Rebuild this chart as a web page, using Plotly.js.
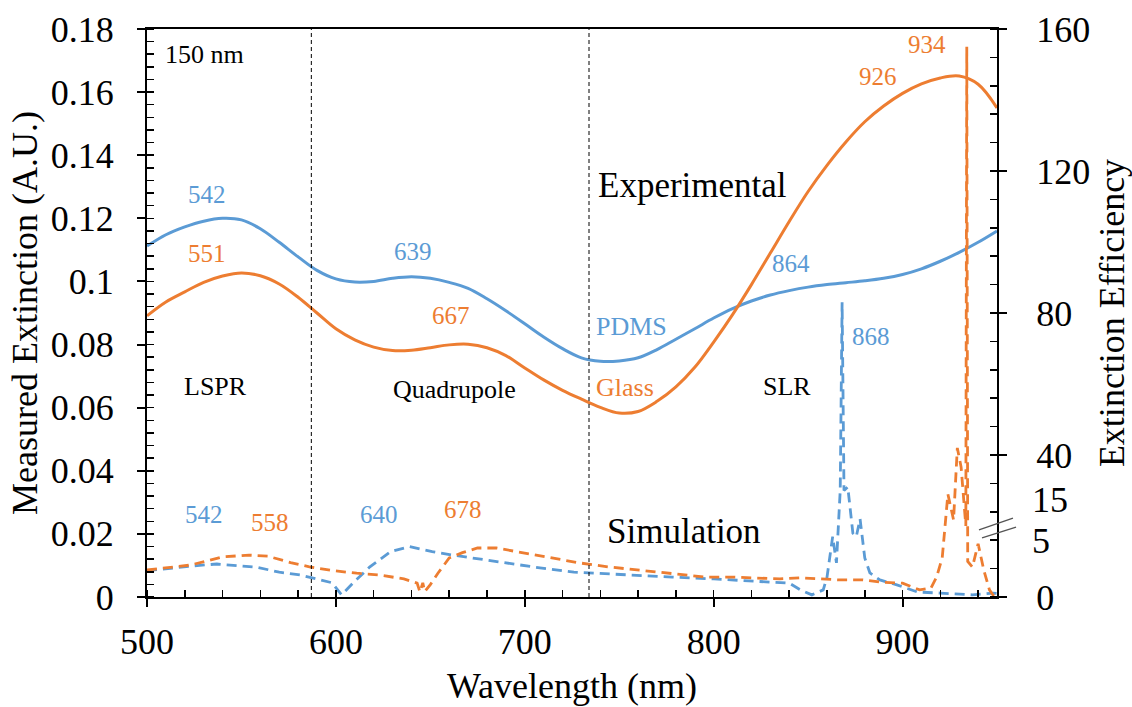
<!DOCTYPE html>
<html><head><meta charset="utf-8">
<script src="https://cdn.plot.ly/plotly-3.0.1.min.js"></script>
<style>html,body{margin:0;padding:0;background:#fff}#chart{width:1132px;height:707px}</style>
</head><body><div id="chart"></div>
<script>
// ---------- data ----------
const expWavelength = [500,510,520,530,540,550,560,570,580,590,600,610,620,630,640,650,660,670,680,690,700,710,720,730,740,750,760,770,780,790,800,810,820,830,840,850,860,870,880,890,900,910,920,930,940,950];
const expPDMS = [0.1112,0.1148,0.1173,0.1191,0.1200,0.1195,0.1167,0.1124,0.1078,0.1035,0.1008,0.0998,0.1000,0.1010,0.1015,0.1010,0.0997,0.0978,0.0945,0.0907,0.0866,0.0824,0.0787,0.0758,0.0747,0.0748,0.0758,0.0784,0.0817,0.0850,0.0884,0.0914,0.0938,0.0957,0.0971,0.0982,0.0990,0.0996,0.1002,0.1010,0.1022,0.1040,0.1064,0.1092,0.1124,0.1160];
const expGlass = [0.0891,0.0935,0.0967,0.0997,0.1017,0.1027,0.1018,0.0992,0.0950,0.0900,0.0850,0.0815,0.0792,0.0781,0.0782,0.0790,0.0799,0.0801,0.0790,0.0765,0.0726,0.0688,0.0655,0.0627,0.0601,0.0583,0.0588,0.0620,0.0666,0.0728,0.0808,0.0895,0.0990,0.1090,0.1190,0.1285,0.1368,0.1442,0.1506,0.1556,0.1596,0.1626,0.1645,0.1651,0.1625,0.1550];

const simPdmsWavelength = [500,510,523,537,549,558,570,581,592,598,603,609,618,629,639,651,662,672,691,708,726,733,752,778,800,810,822,831,840,846,852,858,860,863,865,867,868,869,871,873.7,875.5,877.5,880,882.7,888,897,908,920,937,948,950];
const simPdms = [7.4,8.0,8.7,9.3,8.7,8.4,7.0,6.2,4.8,4.0,0.6,3.9,8.5,12.8,14.2,12.8,11.8,11.0,9.6,8.2,7.0,6.8,6.2,5.6,5.1,4.8,4.6,4.2,3.9,2.0,0.6,2.0,5.6,17,9.6,30,83,30,31,18,17,22,11,6.8,4.8,3.4,1.4,1.1,0.6,1.1,1.0];

const simGlassWavelength = [500,512,523,540,554,564,576,586,599,611,623,636,643,644.5,646,647,650,654,660,667,675,685,699,713,729,744,761,778,796,810,835,846,858,867,879,888,900,909,915,918,921,924,927,929,931,933.5,934,934.5,937,940,943,946,948,950];
const simGlass = [7.6,8.3,9.0,11.3,11.8,11.5,9.7,8.5,7.4,6.7,6.2,5.1,3.9,1.4,4.0,1.5,3.5,6.7,11,12.5,13.8,13.8,12.5,11.3,9.6,8.5,7.6,6.7,5.6,5.6,5.1,5.4,5.1,4.8,4.8,4.2,3.9,2.0,2.5,5.6,11,29,21.7,42,36.6,20,155,10,8.4,15,7.6,2,0.5,0.3];

const regionBounds = [587, 734];
const rightTickVals = [0, 40, 80, 120, 160];
const rightTickText = ['0', '40', '80', '120', '160'];

// ---------- style ----------
const BLUE = '#5B9BD5';
const ORANGE = '#ED7D31';
const FONT = 'Liberation Serif';

const traces = [
  {x: expWavelength, y: expPDMS, type: 'scatter', mode: 'lines', line: {color: BLUE, width: 3, shape: 'spline', smoothing: 1}, hoverinfo: 'skip', xaxis: 'x', yaxis: 'y'},
  {x: expWavelength, y: expGlass, type: 'scatter', mode: 'lines', line: {color: ORANGE, width: 3, shape: 'spline', smoothing: 1}, hoverinfo: 'skip', xaxis: 'x', yaxis: 'y'},
  {x: simPdmsWavelength, y: simPdms, type: 'scatter', mode: 'lines', line: {color: BLUE, width: 2.8, dash: '10px,6px'}, hoverinfo: 'skip', xaxis: 'x', yaxis: 'y2'},
  {x: simGlassWavelength, y: simGlass, type: 'scatter', mode: 'lines', line: {color: ORANGE, width: 2.8, dash: '10px,6px'}, hoverinfo: 'skip', xaxis: 'x', yaxis: 'y2'}
];

const axBase = {showgrid: false, zeroline: false, tickcolor: '#000', tickwidth: 2, linecolor: '#000', linewidth: 2};

function ann(text, x, y, color, size, xref, yref, xanchor) {
  return {text: text, x: x, y: y, xref: xref || 'x', yref: yref || 'y', showarrow: false,
    font: {family: FONT, size: size, color: color}, xanchor: xanchor || 'center', yanchor: 'middle'};
}

const annotations = [
  ann('150 nm', 530.5, 0.1718, '#000', 26),
  ann('542', 532, 0.1274, BLUE, 25),
  ann('551', 532, 0.1090, ORANGE, 25),
  ann('639', 640.8, 0.1094, BLUE, 25),
  ann('667', 661, 0.0891, ORANGE, 25),
  ann('Experimental', 789, 0.1303, '#000', 35),
  ann('PDMS', 736.8, 0.0856, BLUE, 26, 'x', 'y', 'left'),
  ann('Glass', 736.8, 0.0665, ORANGE, 26, 'x', 'y', 'left'),
  ann('864', 841, 0.1056, BLUE, 25),
  ann('926', 887, 0.1648, ORANGE, 25),
  ann('934', 913, 0.1750, ORANGE, 25),
  ann('868', 883.3, 0.0824, BLUE, 25),
  ann('LSPR', 536.5, 0.0666, '#000', 26),
  ann('Quadrupole', 663, 0.0659, '#000', 26),
  ann('SLR', 839, 0.0666, '#000', 26),
  ann('542', 530, 0.0260, BLUE, 25),
  ann('558', 565, 0.0235, ORANGE, 25),
  ann('640', 622.8, 0.0260, BLUE, 25),
  ann('678', 667.3, 0.0276, ORANGE, 25),
  ann('Simulation', 784.3, 0.0209, '#000', 35),
  ann('15', 1.0388, 27.3, '#000', 36, 'paper', 'y2', 'left'),
  ann('5', 1.0388, 15.8, '#000', 36, 'paper', 'y2', 'left')
];

const shapes = regionBounds.map(b => ({type: 'line', xref: 'x', yref: 'paper', x0: b, x1: b, y0: 0, y1: 1,
  line: {color: '#000', width: 1, dash: '4px,3px'}}));
shapes.push({type: 'line', xref: 'paper', yref: 'paper', x0: 0.9788, y0: 0.118, x1: 1.0188, y1: 0.139, line: {color: '#555', width: 1.3}});
shapes.push({type: 'line', xref: 'paper', yref: 'paper', x0: 0.9824, y0: 0.1039, x1: 1.0224, y1: 0.1232, line: {color: '#555', width: 1.3}});

const layout = {
  width: 1132, height: 707,
  margin: {l: 147, r: 135, t: 29, b: 110},
  paper_bgcolor: '#fff', plot_bgcolor: '#fff',
  showlegend: false,
  font: {family: FONT, color: '#000', size: 36},
  xaxis: Object.assign({}, axBase, {
    range: [500, 950], tick0: 500, dtick: 100, ticks: 'outside', ticklen: 8,
    showline: true, mirror: true,
    minor: {tick0: 500, dtick: 20, ticks: 'inside', ticklen: 7, tickwidth: 1.5, tickcolor: '#000', showgrid: false},
    tickfont: {family: FONT, size: 36}, ticklabelstandoff: 4,
    title: {text: 'Wavelength (nm)', font: {family: FONT, size: 36}, standoff: 12}
  }),
  xaxis2: Object.assign({}, axBase, {
    overlaying: 'x', anchor: 'y', range: [500, 950], tick0: 500, dtick: 100,
    ticks: 'inside', ticklen: 8, showticklabels: false, showline: false
  }),
  yaxis: Object.assign({}, axBase, {
    range: [0, 0.18], tick0: 0, dtick: 0.02, ticks: 'outside', ticklen: 8,
    showline: true, mirror: true,
    minor: {tick0: 0, dtick: 0.004, ticks: 'inside', ticklen: 7, tickwidth: 1.5, tickcolor: '#000', showgrid: false},
    tickfont: {family: FONT, size: 36}, ticklabelstandoff: 16,
    title: {text: 'Measured Extinction (A.U.)', font: {family: FONT, size: 36}, standoff: 2}
  }),
  yaxis2: Object.assign({}, axBase, {
    overlaying: 'y', side: 'right', anchor: 'x', range: [0, 160],
    tickmode: 'array', tickvals: rightTickVals, ticktext: rightTickText,
    ticks: 'outside', ticklen: 8, showline: true,
    minor: {tickmode: 'linear', tick0: 0, dtick: 8, ticks: 'inside', ticklen: 7, tickwidth: 1.5, tickcolor: '#000', showgrid: false},
    tickfont: {family: FONT, size: 36}, ticklabelstandoff: 22,
    title: {text: 'Extinction Efficiency', font: {family: FONT, size: 36}, standoff: 14}
  }),
  yaxis3: Object.assign({}, axBase, {
    overlaying: 'y', side: 'left', anchor: 'x', range: [0, 0.18], tick0: 0, dtick: 0.02,
    ticks: 'inside', ticklen: 8, showticklabels: false, showline: false
  }),
  yaxis4: Object.assign({}, axBase, {
    overlaying: 'y', side: 'right', anchor: 'x', range: [0, 160],
    tickmode: 'array', tickvals: rightTickVals,
    ticks: 'inside', ticklen: 8, showticklabels: false, showline: false
  }),
  annotations: annotations,
  shapes: shapes
};

Plotly.newPlot('chart', traces, layout, {staticPlot: true, displayModeBar: false});
</script>
</body></html>
